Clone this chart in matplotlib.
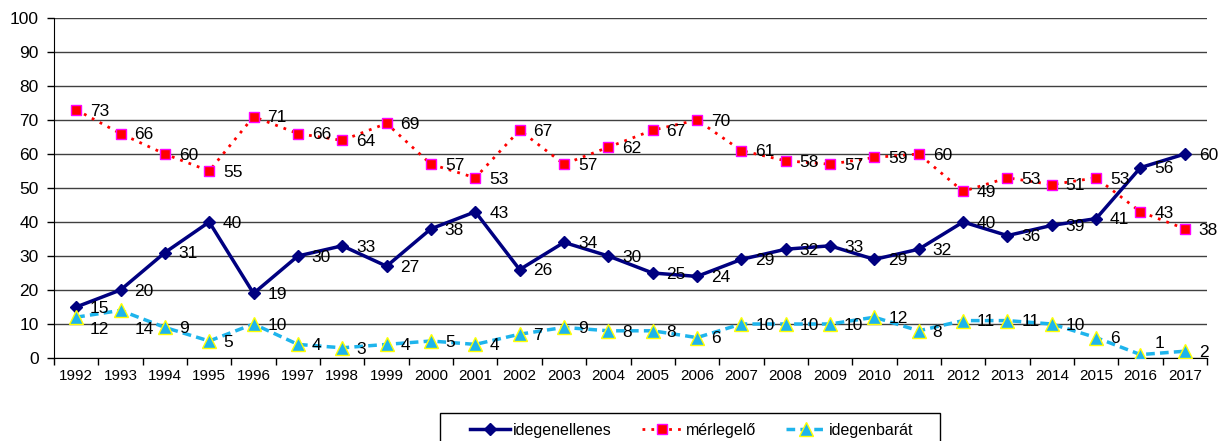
import matplotlib
matplotlib.use("Agg")
import matplotlib.pyplot as plt
from matplotlib.patches import Rectangle
import numpy as np

years = [str(y) for y in range(1992, 2018)]
idegenellenes = [15, 20, 31, 40, 19, 30, 33, 27, 38, 43, 26, 34, 30, 25, 24, 29, 32, 33, 29, 32, 40, 36, 39, 41, 56, 60]
merlegelo = [73, 66, 60, 55, 71, 66, 64, 69, 57, 53, 67, 57, 62, 67, 70, 61, 58, 57, 59, 60, 49, 53, 51, 53, 43, 38]
idegenbarat = [12, 14, 9, 5, 10, 4, 3, 4, 5, 4, 7, 9, 8, 8, 6, 10, 10, 10, 12, 8, 11, 11, 10, 6, 1, 2]
series_names = ["idegenellenes", "mérlegelő", "idegenbarát"]
y_ticks = list(range(0, 101, 10))

plt.rcParams['font.family'] = ['Liberation Sans', 'DejaVu Sans']

fig = plt.figure(figsize=(12.23, 4.41), dpi=100)
W, H = 1223, 441
ax = fig.add_axes([54 / W, 1 - 358 / H, (1207 - 54) / W, (358 - 18) / H])

x = np.arange(len(years))

styles = [
    dict(color='#000080', lw=2.5, ls='-', marker='D', ms=6.5, mfc='#000080', mec='#000080', mew=1),
    dict(color='#FF0000', lw=2, ls=(0, (1, 2.2)), marker='s', ms=7.3, mfc='#FF0000', mec='#FF00FF', mew=1),
    dict(color='#1EB4EC', lw=2.5, ls=(0, (2.5, 1.5)), marker='^', ms=9.5, mfc='#1EB4EC', mec='#FFFF00', mew=1),
]
data = [idegenellenes, merlegelo, idegenbarat]

# label nudges (series index, point index) -> extra offset in points
nudges = {(2, 0): (0, -8), (2, 1): (0, -13), (2, 24): (0, 9)}

for si, (vals, name, st) in enumerate(zip(data, series_names, styles)):
    ax.plot(x, vals, label=name, zorder=3, **st)
    for pi, (xi, v) in enumerate(zip(x, vals)):
        dx, dy = nudges.get((si, pi), (0, 0))
        ax.annotate(str(v), (xi, v), xytext=(10 + dx, -1 + dy), textcoords='offset points',
                    ha='left', va='center', fontsize=12.5, color='black', zorder=4)

ax.set_xlim(-0.5, len(years) - 0.5)
ax.set_ylim(0, 100)
ax.set_yticks(y_ticks)
ax.tick_params(axis='y', labelsize=12.5, length=5, width=1, direction='out', pad=6)
ax.yaxis.grid(True, color='#404040', lw=1)
ax.set_axisbelow(True)

ax.set_xticks(x)
ax.set_xticklabels(years)
ax.tick_params(axis='x', which='major', length=0, labelsize=11, pad=8)
ax.set_xticks(np.arange(-0.5, len(years), 1), minor=True)
ax.tick_params(axis='x', which='minor', length=5, width=1, direction='out')

for side in ['top', 'right']:
    ax.spines[side].set_visible(False)
ax.spines['left'].set_color('black')
ax.spines['bottom'].set_color('black')

leg = fig.legend(loc='center', bbox_to_anchor=(692 / W, 1 - 430 / H), ncol=3,
                 fontsize=11.5, frameon=False, borderpad=0, borderaxespad=0,
                 handlelength=2.5, columnspacing=1.9, handletextpad=0.2)
fig.patches.append(Rectangle((440 / W, -0.05), 500 / W, 0.05 + 28 / H,
                             transform=fig.transFigure, fill=False,
                             edgecolor='black', lw=1, clip_on=False))

fig.savefig('out.png', dpi=100)
